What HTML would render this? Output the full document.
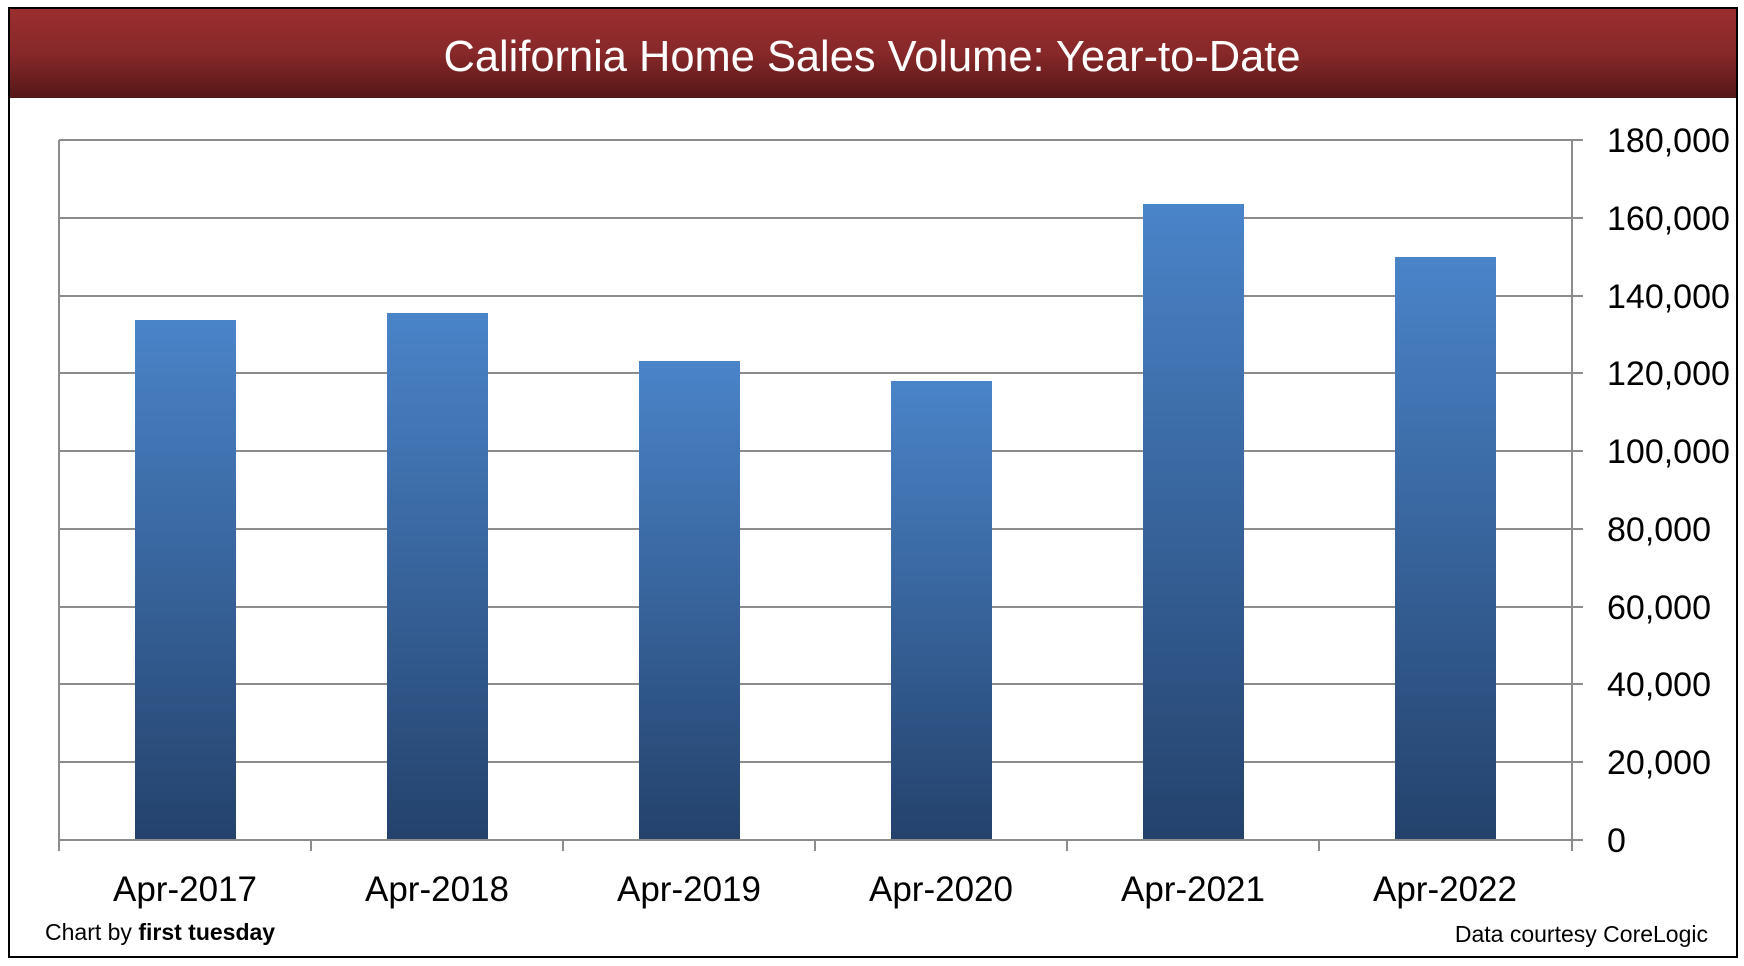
<!DOCTYPE html>
<html><head><meta charset="utf-8"><style>html,body{margin:0;padding:0;background:#fff}svg{display:block}</style></head>
<body>
<svg width="1744" height="966" viewBox="0 0 1744 966" xmlns="http://www.w3.org/2000/svg" font-family="Liberation Sans, sans-serif">
<defs>
<linearGradient id="hdr" x1="0" y1="0" x2="0" y2="1">
<stop offset="0" stop-color="#9b2e2f"/><stop offset="0.5" stop-color="#872829"/><stop offset="1" stop-color="#561717"/>
</linearGradient>
<linearGradient id="bar" x1="0" y1="0" x2="0" y2="1">
<stop offset="0" stop-color="#4a84c9"/><stop offset="1" stop-color="#24426c"/>
</linearGradient>
</defs>
<rect x="9" y="8" width="1728" height="949" fill="#fff" stroke="#000" stroke-width="2"/>
<rect x="10" y="9" width="1726" height="89" fill="url(#hdr)"/>
<text x="872" y="71" fill="#fff" font-size="44" text-anchor="middle" textLength="857" lengthAdjust="spacingAndGlyphs">California Home Sales Volume: Year-to-Date</text>
<g stroke="#8c8c8c" stroke-width="2">
<line x1="59" y1="140" x2="1583" y2="140"/>
<line x1="59" y1="218" x2="1583" y2="218"/>
<line x1="59" y1="296" x2="1583" y2="296"/>
<line x1="59" y1="373" x2="1583" y2="373"/>
<line x1="59" y1="451" x2="1583" y2="451"/>
<line x1="59" y1="529" x2="1583" y2="529"/>
<line x1="59" y1="607" x2="1583" y2="607"/>
<line x1="59" y1="684" x2="1583" y2="684"/>
<line x1="59" y1="762" x2="1583" y2="762"/>
<line x1="59" y1="140" x2="59" y2="851"/>
<line x1="1572" y1="140" x2="1572" y2="851"/>
</g>
<g fill="url(#bar)">
<rect x="135" y="320" width="101" height="520"/>
<rect x="387" y="313" width="101" height="527"/>
<rect x="639" y="361" width="101" height="479"/>
<rect x="891" y="381" width="101" height="459"/>
<rect x="1143" y="204" width="101" height="636"/>
<rect x="1395" y="257" width="101" height="583"/>
</g>
<g stroke="#8c8c8c" stroke-width="2">
<line x1="59" y1="840" x2="1583" y2="840"/>
<line x1="311" y1="840" x2="311" y2="851"/>
<line x1="563" y1="840" x2="563" y2="851"/>
<line x1="815" y1="840" x2="815" y2="851"/>
<line x1="1067" y1="840" x2="1067" y2="851"/>
<line x1="1319" y1="840" x2="1319" y2="851"/>
</g>
<g font-size="34" fill="#000">
<text x="1607" y="152">180,000</text>
<text x="1607" y="230">160,000</text>
<text x="1607" y="308">140,000</text>
<text x="1607" y="385">120,000</text>
<text x="1607" y="463">100,000</text>
<text x="1607" y="541">80,000</text>
<text x="1607" y="619">60,000</text>
<text x="1607" y="696">40,000</text>
<text x="1607" y="774">20,000</text>
<text x="1607" y="852">0</text>
</g>
<g font-size="35" fill="#000" text-anchor="middle">
<text x="185" y="901">Apr-2017</text>
<text x="437" y="901">Apr-2018</text>
<text x="689" y="901">Apr-2019</text>
<text x="941" y="901">Apr-2020</text>
<text x="1193" y="901">Apr-2021</text>
<text x="1445" y="901">Apr-2022</text>
</g>
<text x="45" y="940" font-size="23" fill="#000">Chart by <tspan font-weight="bold">first tuesday</tspan></text>
<text x="1708" y="942" font-size="23" fill="#000" text-anchor="end">Data courtesy CoreLogic</text>
</svg>
</body></html>
